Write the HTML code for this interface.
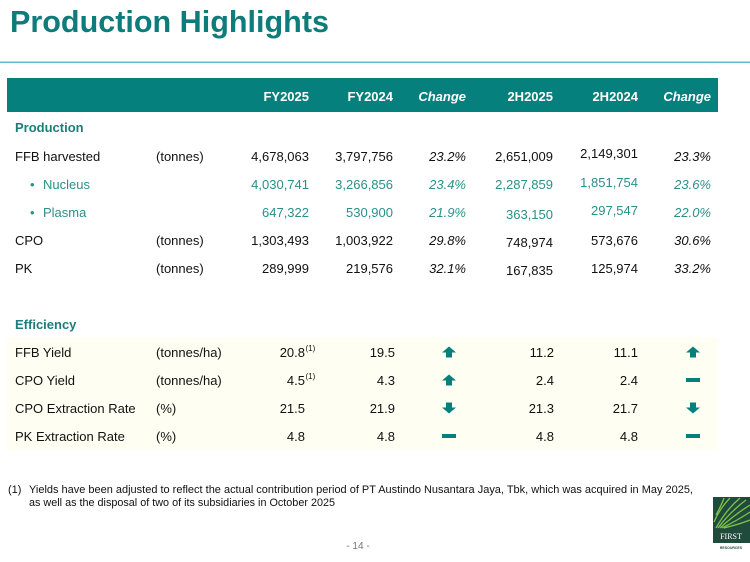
<!DOCTYPE html>
<html><head><meta charset="utf-8"><style>
html,body{margin:0;padding:0;background:#fff;}
svg{display:block;font-family:"Liberation Sans",Arial,sans-serif;}
</style></head><body>
<svg width="750" height="562" viewBox="0 0 750 562" xmlns="http://www.w3.org/2000/svg">
<rect width="750" height="562" fill="#fff"/>
<text x="10" y="32" font-size="30.5" font-weight="bold" fill="#0e7c7b" textLength="319" lengthAdjust="spacingAndGlyphs">Production Highlights</text>
<rect x="0" y="61.5" width="750" height="1.5" fill="#5bbcd3"/>
<rect x="7" y="78" width="711" height="34" fill="#05807d"/>
<g font-size="13" font-weight="bold" fill="#fff" text-anchor="end">
<text x="309" y="101">FY2025</text>
<text x="393" y="101">FY2024</text>
<text x="466" y="101" font-style="italic">Change</text>
<text x="553" y="101">2H2025</text>
<text x="638" y="101">2H2024</text>
<text x="711" y="101" font-style="italic">Change</text>
</g>
<text x="15" y="132" font-size="13" font-weight="bold" fill="#1a7f7c">Production</text>
<g font-size="13" fill="#111">
<text x="15" y="161">FFB harvested</text>
<text x="156" y="161">(tonnes)</text>
<text x="15" y="245">CPO</text>
<text x="156" y="245">(tonnes)</text>
<text x="15" y="273">PK</text>
<text x="156" y="273">(tonnes)</text>
</g>
<g font-size="13" fill="#2b8f8a">
<text x="30" y="189">•</text><text x="43" y="189">Nucleus</text>
<text x="30" y="217">•</text><text x="43" y="217">Plasma</text>
</g>
<g font-size="13" fill="#111" text-anchor="end">
<text x="309" y="161">4,678,063</text><text x="393" y="161">3,797,756</text><text x="466" y="161" font-style="italic">23.2%</text><text x="553" y="161">2,651,009</text><text x="638" y="158">2,149,301</text><text x="711" y="161" font-style="italic">23.3%</text>
<text x="309" y="245">1,303,493</text><text x="393" y="245">1,003,922</text><text x="466" y="245" font-style="italic">29.8%</text><text x="553" y="247">748,974</text><text x="638" y="245">573,676</text><text x="711" y="245" font-style="italic">30.6%</text>
<text x="309" y="273">289,999</text><text x="393" y="273">219,576</text><text x="466" y="273" font-style="italic">32.1%</text><text x="553" y="275">167,835</text><text x="638" y="273">125,974</text><text x="711" y="273" font-style="italic">33.2%</text>
</g>
<g font-size="13" fill="#2b8f8a" text-anchor="end">
<text x="309" y="189">4,030,741</text><text x="393" y="189">3,266,856</text><text x="466" y="189" font-style="italic">23.4%</text><text x="553" y="189">2,287,859</text><text x="638" y="187">1,851,754</text><text x="711" y="189" font-style="italic">23.6%</text>
<text x="309" y="217">647,322</text><text x="393" y="217">530,900</text><text x="466" y="217" font-style="italic">21.9%</text><text x="553" y="219">363,150</text><text x="638" y="215">297,547</text><text x="711" y="217" font-style="italic">22.0%</text>
</g>
<text x="15" y="329" font-size="13" font-weight="bold" fill="#1a7f7c">Efficiency</text>
<rect x="7" y="337" width="711" height="113" fill="#fefef2"/>
<g font-size="13" fill="#111">
<text x="15" y="357">FFB Yield</text><text x="156" y="357">(tonnes/ha)</text>
<text x="15" y="385">CPO Yield</text><text x="156" y="385">(tonnes/ha)</text>
<text x="15" y="413">CPO Extraction Rate</text><text x="156" y="413">(%)</text>
<text x="15" y="441">PK Extraction Rate</text><text x="156" y="441">(%)</text>
</g>
<g font-size="13" fill="#111" text-anchor="end">
<text x="305" y="357">20.8</text><text x="395" y="357">19.5</text><text x="554" y="357">11.2</text><text x="638" y="357">11.1</text>
<text x="305" y="385">4.5</text><text x="395" y="385">4.3</text><text x="554" y="385">2.4</text><text x="638" y="385">2.4</text>
<text x="305" y="413">21.5</text><text x="395" y="413">21.9</text><text x="554" y="413">21.3</text><text x="638" y="413">21.7</text>
<text x="305" y="441">4.8</text><text x="395" y="441">4.8</text><text x="554" y="441">4.8</text><text x="638" y="441">4.8</text>
</g>
<g font-size="8" fill="#111">
<text x="305.5" y="351">(1)</text>
<text x="305.5" y="379">(1)</text>
</g>
<defs>
<g id="up"><polygon points="0,-5.5 7,0.5 3,0.5 3,5.5 -3,5.5 -3,0.5 -7,0.5" fill="#05807d"/></g>
<g id="down"><polygon points="0,5.5 7,-0.5 3,-0.5 3,-5.5 -3,-5.5 -3,-0.5 -7,-0.5" fill="#05807d"/></g>
<g id="dash"><rect x="-7" y="-2" width="14" height="4" fill="#05807d"/></g>
</defs>
<use href="#up" x="449" y="352"/>
<use href="#up" x="449" y="380"/>
<use href="#down" x="449" y="408"/>
<use href="#dash" x="449" y="436"/>
<use href="#up" x="693" y="352"/>
<use href="#dash" x="693" y="380"/>
<use href="#down" x="693" y="408"/>
<use href="#dash" x="693" y="436"/>
<g font-size="11" fill="#111">
<text x="8" y="493">(1)</text>
<text x="29" y="493" textLength="664" lengthAdjust="spacingAndGlyphs">Yields have been adjusted to reflect the actual contribution period of PT Austindo Nusantara Jaya, Tbk, which was acquired in May 2025,</text>
<text x="29" y="506" textLength="306" lengthAdjust="spacingAndGlyphs">as well as the disposal of two of its subsidiaries in October 2025</text>
</g>
<text x="358" y="549" font-size="10" fill="#777" text-anchor="middle">- 14 -</text>
<g>
<rect x="713" y="497" width="37" height="46" fill="#1f4a3c"/>
<g stroke="#7fc24a" stroke-width="1.3" fill="none">
<path d="M716,528 Q726,510 740,498"/>
<path d="M718,528 Q730,512 746,500"/>
<path d="M720,528 Q734,515 750,505"/>
<path d="M722,528 Q738,520 750,512"/>
<path d="M714,522 Q720,508 730,498"/>
<path d="M724,528 Q740,524 750,520"/>
<path d="M716,515 Q722,504 724,498"/>
</g>
<text x="731" y="539" font-size="8" fill="#fff" text-anchor="middle" font-family="Liberation Serif,serif">FIRST</text>
<text x="731" y="549" font-size="3.5" fill="#1f4a3c" text-anchor="middle" font-weight="bold">RESOURCES</text>
</g>
</svg>
</body></html>
